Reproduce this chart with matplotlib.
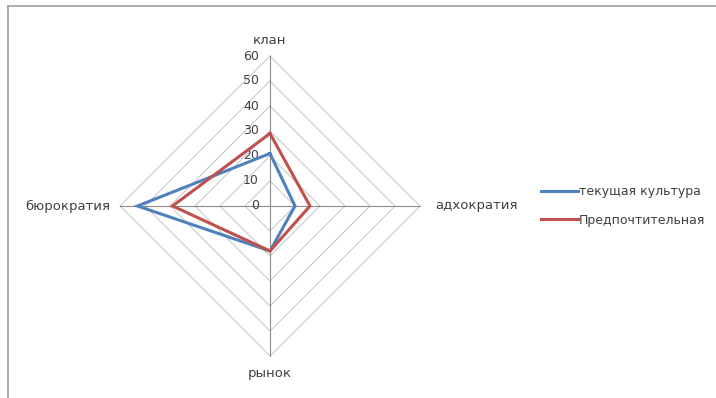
import numpy as np
import matplotlib
matplotlib.use("Agg")
import matplotlib.pyplot as plt
from matplotlib.lines import Line2D


categories = ["клан", "адхократия", "рынок", "бюрократия"]
current_culture = [21, 10, 18, 53]
preferred_culture = [29, 16, 18, 39]
series_names = ["текущая культура", "Предпочтительная"]
levels = [10, 20, 30, 40, 50, 60]
tick_labels = ["0", "10", "20", "30", "40", "50", "60"]

BLUE = "#4F81BD"
RED = "#C0504D"
TEXT = "#404040"

plt.rcParams["font.family"] = ["DejaVu Sans"]

# angles: top, right, bottom, left
angles = np.pi / 2 - np.arange(len(categories)) * 2 * np.pi / len(categories)


def to_xy(values):
    values = np.asarray(values, dtype=float)
    x = values * np.cos(angles)
    y = values * np.sin(angles)
    return np.append(x, x[0]), np.append(y, y[0])


fig = plt.figure(figsize=(7.16, 3.98), dpi=100)

# border on the left and top edges of the chart area
fig.add_artist(Line2D([8 / 716, 8 / 716], [0, 1 - 6 / 398],
                      color="#a0a0a0", lw=1.2, transform=fig.transFigure))
fig.add_artist(Line2D([8 / 716, 1], [1 - 6 / 398, 1 - 6 / 398],
                      color="#a0a0a0", lw=1.2, transform=fig.transFigure))

ax = fig.add_axes([120 / 716, 42 / 398, 300 / 716, 300 / 398])
ax.set_xlim(-60, 60)
ax.set_ylim(-60, 60)
ax.set_aspect("equal")
ax.axis("off")

# diamond grid
for level in levels:
    gx, gy = to_xy([level] * len(categories))
    ax.plot(gx, gy, color="#cacaca", lw=0.8, zorder=1, clip_on=False)

# spokes
for a in angles:
    ax.plot([0, 60 * np.cos(a)], [0, 60 * np.sin(a)],
            color="#8c8c8c", lw=0.8, zorder=1, clip_on=False)

# value axis labels
for value, label in zip([0] + levels, tick_labels):
    ax.text(-4.5, value, label, ha="right", va="center",
            fontsize=9, color=TEXT)

# category labels
ax.text(0, 66, categories[0], ha="center", va="center", fontsize=9.5, color=TEXT)
ax.text(66, 0, categories[1], ha="left", va="center", fontsize=9.5, color=TEXT)
ax.text(0, -67, categories[2], ha="center", va="center", fontsize=9.5, color=TEXT)
ax.text(-64, 0, categories[3], ha="right", va="center", fontsize=9.5, color=TEXT)

bx, by = to_xy(current_culture)
rx, ry = to_xy(preferred_culture)
ax.plot(bx, by, color=BLUE, lw=2.2, label=series_names[0], zorder=3,
        solid_joinstyle="miter", clip_on=False)
ax.plot(rx, ry, color=RED, lw=2.2, label=series_names[1], zorder=3,
        solid_joinstyle="miter", clip_on=False)

fig.legend(loc="center left", bbox_to_anchor=(530 / 716, 1 - 206 / 398),
           frameon=False, fontsize=9, handlelength=2.9, handletextpad=0.1,
           labelspacing=1.25, labelcolor=TEXT)

fig.savefig("out.png", dpi=100)
